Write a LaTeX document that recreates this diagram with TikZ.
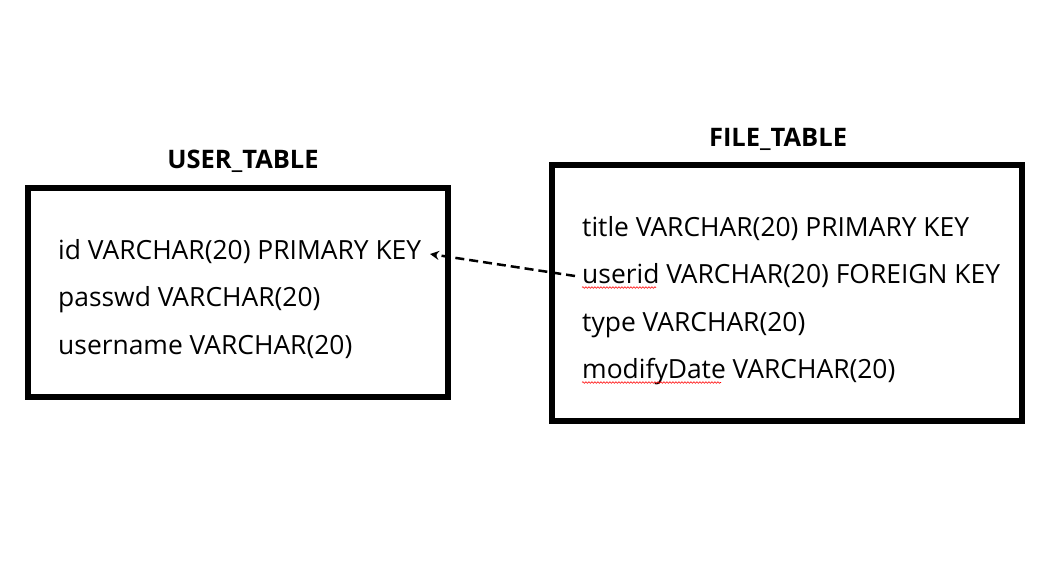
\documentclass[tikz,border=0pt]{standalone}
\usepackage{fontspec}
\setmainfont{Open Sans}
\usetikzlibrary{arrows.meta,decorations.pathmorphing}
\begin{document}
\begin{tikzpicture}[x=1pt,y=-1pt,
  tbl/.style={draw=black,line width=6pt},
  row/.style={anchor=base west,inner sep=0pt,font=\fontsize{26.4}{30}\selectfont},
  ttl/.style={anchor=base,inner sep=0pt,font=\fontsize{25.5}{30}\selectfont\bfseries},
  spell/.style={draw=red,line width=0.6pt,decorate,decoration={snake,amplitude=0.8pt,segment length=3pt}},
  fk/.style={line width=2.5pt,dash pattern=on 9pt off 5pt,-{Stealth[length=9pt,width=9pt]}}]
\useasboundingbox (0,0) rectangle (1037,576);
\draw[tbl] (28,188) rectangle (448,397);
\draw[tbl] (552,165) rectangle (1022,421);
\node[ttl] (ut) at (243,168) {USER\_TABLE};
\node[ttl] (ft) at (778,146.5) {FILE\_TABLE};
\node[row] (u1) at (58,259) {id VARCHAR(20) PRIMARY KEY};
\node[row] (u2) at (58,306.5) {passwd VARCHAR(20)};
\node[row] (u3) at (58,354) {username VARCHAR(20)};
\node[row] (f1) at (582,236) {title VARCHAR(20) PRIMARY KEY};
\node[row] (f2) at (582,283.5) {userid VARCHAR(20) FOREIGN KEY};
\node[row] (f3) at (582,331) {type VARCHAR(20)};
\node[row] (f4) at (582,378.5) {modifyDate VARCHAR(20)};
\coordinate (s1a) at (582,287.5);
\coordinate (s1b) at (656,287.5);
\coordinate (s2a) at (582,382.5);
\coordinate (s2b) at (721,382.5);
\draw[spell] (s1a) -- (s1b);
\draw[spell] (s2a) -- (s2b);
\coordinate (fkstart) at (575,276);
\coordinate (fkend) at (430,254);
\draw[fk] (fkstart) -- (fkend);
\end{tikzpicture}
\end{document}
